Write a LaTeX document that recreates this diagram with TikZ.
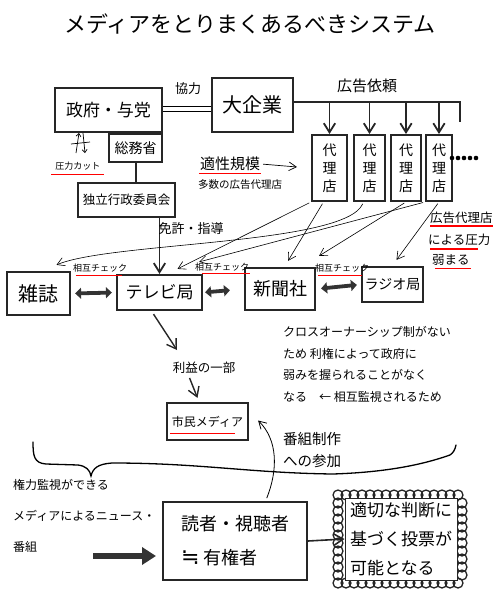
\documentclass[tikz,border=0pt]{standalone}
\usepackage{fontspec}
\setmainfont{Noto Sans CJK JP}
\newfontfamily\symfont{DejaVu Sans}
\usetikzlibrary{arrows.meta,positioning,calc}
\newcommand{\jfs}[2]{\fontsize{#1}{#2}\selectfont}
\tikzset{
  box/.style    ={rectangle, draw=black!85, line width=2.2pt, inner sep=1pt, align=center},
  agent/.style  ={box, line width=2pt, minimum height=66pt, font=\jfs{14}{18}},
  lbl/.style    ={inner sep=1pt, align=left},
  redul/.style  ={draw=red, line width=1.1pt},
  thn/.style    ={-{Straight Barb[length=2.6mm,width=3mm]}, line width=0.6pt, shorten <=2pt},
  ar/.style     ={-{Straight Barb[length=3.2mm,width=4mm]}, line width=1.8pt, draw=black!85},
  chk/.style    ={{Triangle[length=6pt,width=11pt]}-{Triangle[length=6pt,width=11pt]},
                  line width=3.8pt, draw=black!80},
  scallop/.style={draw=black!85, line width=1.3pt},
}

\begin{document}
\begin{tikzpicture}[x=1pt,y=-1pt]
\useasboundingbox (0,0) rectangle (493,598);

\node[font=\jfs{22}{26}] (title) at (250,24) {メディアをとりまくあるべきシステム};

% government, business, agencies
\node[box, minimum width=107pt, minimum height=44pt, font=\jfs{17}{20}] (gov) at (108.5,110) {政府・与党};
\node[box, minimum width=81pt, minimum height=54pt, font=\jfs{20}{24}] (corp) at (252.5,105) {大企業};
\node[box, minimum width=53pt, minimum height=28pt, font=\jfs{14}{16}, anchor=north east] (soumu) at (gov.south east) {総務省};
\node[box, minimum width=97pt, minimum height=34pt, font=\jfs{12.5}{14}] (iinkai) at (126.5,200) {独立行政委員会};

\draw[line width=1pt] ($(gov.east)+(0,-4)$) -- ($(gov.east -| corp.west)+(0,-4)$);
\draw[line width=1pt] ($(gov.east)+(0,1)$) -- ($(gov.east -| corp.west)+(0,1)$);
\node[lbl, font=\jfs{13}{15}] (kyoryoku) at (188,89) {協力};

\node[agent, minimum width=35pt] (ag1) at (329.5,168) {代\\理\\店};
\node[agent, minimum width=31pt, right=5pt of ag1] (ag2) {代\\理\\店};
\node[agent, minimum width=30pt, right=4pt of ag2] (ag3) {代\\理\\店};
\node[agent, minimum width=26pt, right=3pt of ag3] (ag4) {代\\理\\店};
\foreach \i in {0,...,4} \fill (452+6*\i,158) circle (2.3);

\coordinate (busR) at (460,102);
\draw[line width=2pt, draw=black!85] ($(corp.east)+(0,-3)$) -- (busR) -- ++(0,20);
\foreach \a in {ag1,ag2,ag3,ag4} \draw[ar] (\a.north |- busR) -- (\a.north);
\node[lbl, font=\jfs{15}{17}] (irai) at (367,86) {広告依頼};

% pressure cut mark
\coordinate (pc) at (80,143);
\draw[-{Straight Barb[length=3pt,width=5pt]}, line width=0.7pt] ($(pc)+(-4,10)$) -- ($(pc)+(-1,-10)$);
\draw[-{Straight Barb[length=3pt,width=5pt]}, line width=0.7pt] ($(pc)+(3,-10)$) -- ($(pc)+(5,10)$);
\draw[line width=0.7pt] ($(pc)+(-9,1)$) -- ($(pc)+(10,-1)$);
\node[lbl, font=\jfs{9}{11}] (atsu) at (78,166) {圧力カット};
\draw[redul] ($(atsu.south west)+(-3,3)$) -- ($(atsu.south east)+(2,3)$);

\draw[line width=2pt, draw=black!85] (soumu.south) -- (soumu.south |- iinkai.north);

\node[lbl, font=\jfs{15}{17}] (tekisei) at (230,164) {適性規模};
\draw[redul] ($(tekisei.south west)+(0,1)$) -- ($(tekisei.south east)+(0,1)$);
\coordinate (tkEnd) at (297,167);
\draw[thn, line width=0.7pt] (tekisei.east) -- (tkEnd);
\node[lbl, font=\jfs{10.5}{12}] (tasuu) at (240,185) {多数の広告代理店};

% media
\node[box, minimum width=63pt, minimum height=43pt, font=\jfs{20}{24}] (zasshi) at (38.5,293.5) {雑誌};
\node[box, minimum width=85pt, minimum height=35pt, font=\jfs{17}{20}] (tv) at (159.5,292.5) {テレビ局};
\node[box, minimum width=70pt, minimum height=42pt, font=\jfs{18}{21}] (shinbun) at (280,289) {新聞社};
\node[box, minimum width=61pt, minimum height=35pt, font=\jfs{14}{16}] (radio) at (392.5,284.5) {ラジオ局};

\draw[ar] (iinkai.south -| tv.north) -- (tv.north);
\node[lbl, font=\jfs{13}{15}] (menkyo) at (191,229) {免許・指導};

\draw[chk, shorten <=4pt, shorten >=4pt] (zasshi.east) -- (tv.west);
\draw[chk, shorten <=2pt, shorten >=14pt] (tv.east) -- (shinbun.west);
\draw[chk, shorten <=5pt, shorten >=4pt] (shinbun.east) -- (radio.west);
\node[lbl, font=\jfs{9}{11}] (chk1) at (100,268) {相互チェック};
\node[lbl, font=\jfs{9}{11}] (chk2) at (222,267) {相互チェック};
\node[lbl, font=\jfs{9}{11}] (chk3) at (342,268) {相互チェック};
\draw[redul] ($(chk1.south west)+(4,2)$) -- ($(chk1.south east)+(-6,2)$);
\draw[redul] ($(chk2.south west)+(8,1)$) -- ($(chk2.south east)+(0,1)$);
\draw[redul] ($(chk3.south west)+(4,2)$) -- ($(chk3.south east)+(-8,2)$);

\draw[thn] (ag1.south west) -- ($(tv.north)+(18,-5)$);
\draw[thn] ($(ag2.south)+(-6,0)$) .. controls (345,245) and (110,242) .. ($(zasshi.north)+(18,-6)$);
\draw[thn] (ag4.south west) -- ($(tv.north east)+(-4,-12)$);
\draw[thn] ($(ag1.south)+(-6,0)$) -- ($(shinbun.north)+(8,-6)$);
\draw[thn] (ag3.south) -- ($(shinbun.north east)+(3,-11)$);
\draw[thn] (ag4.south) -- ($(radio.north)+(4,-6)$);

\node[lbl, anchor=west, font=\jfs{12.5}{15}] (kd1) at (429,218) {広告代理店};
\node[lbl, anchor=west, font=\jfs{12.5}{15}] (kd2) at (427,240) {による圧力};
\node[lbl, anchor=west, font=\jfs{12.5}{15}] (kd3) at (431,260) {弱まる};
\draw[redul] ($(kd1.south west)+(1,1)$) -- ($(kd1.south east)+(0,1)$);
\draw[redul] ($(kd2.south west)+(3,2)$) -- ($(kd2.south east)+(-14,2)$);
\draw[redul] ($(kd3.south west)+(4,2)$) -- ($(kd3.south east)+(0,2)$);

% citizens' media
\node[lbl, font=\jfs{12.5}{15}] (rieki) at (204,368) {利益の一部};
\node[box, minimum width=81pt, minimum height=37pt, font=\jfs{12}{14}] (shimin) at (207.5,421.5) {市民メディア};
\draw[redul] ($(shimin.south west)+(4,-8)$) -- ($(shimin.south east)+(-14,-8)$);
\coordinate (rk1) at (177,350);
\draw[ar, line width=1.4pt] ($(tv.south)+(-6,3)$) -- (rk1);
\draw[ar, line width=1.4pt] ($(rieki.south west)+(18,3)$) -- ($(shimin.north)+(-10,-4)$);

\node[lbl, anchor=north west, font=\jfs{12}{21.7}] (cross) at (282,325)
  {クロスオーナーシップ制がない\\ため 利権によって政府に\\弱みを握られることがなく\\なる　← 相互監視されるため};

\node[lbl, anchor=north west, font=\jfs{14.5}{22}] (sanka) at (282,431) {番組制作\\への参加};
\coordinate (sk0) at (266,500);
\draw[thn, line width=0.8pt] (sk0) .. controls (278,470) and (278,440) .. ($(shimin.east)+(9,-1)$);

% brace
\draw[line width=1.3pt, line cap=round]
  (33,442) .. controls (33,456) and (34,463) .. (46,464) -- (78,465)
  .. controls (86,466) and (90,470) .. (91,476)
  .. controls (93,468) and (98,464) .. (112,463)
  .. controls (200,463) and (250,473) .. (333,474)
  .. controls (395,472) and (430,462) .. (450,455)
  .. controls (453,453) and (455,450) .. (456,445);

% readers
\node[lbl, anchor=north west, font=\jfs{12}{31}] (news) at (12,478)
  {権力監視ができる\\メディアによるニュース・\\番組};
\node[box, minimum width=144pt, minimum height=78pt, font=\jfs{18}{34}, line width=2pt, align=left] (reader) at (235,541)
  {読者・視聴者\\{\symfont\fontsize{22}{34}\selectfont ≒} 有権者};
\coordinate (bigS) at (93,556);
\draw[line width=6pt, draw=black!80, -{Triangle[length=14pt,width=17pt]}] (bigS) -- ($(reader.west)+(-6,15)$);

\foreach \x in {338,346,...,462} {
  \draw[scallop] (\x,495) circle (5);
  \draw[scallop] (\x,583) circle (5);
}
\foreach \y in {503,511,...,575} {
  \draw[scallop] (338,\y) circle (5);
  \draw[scallop] (462,\y) circle (5);
}
\node[rectangle, draw=black!85, fill=white, line width=1pt, minimum width=112pt, minimum height=82pt,
      font=\jfs{17}{29}, align=left] (judge) at (401,539)
  {適切な判断に\\基づく投票が\\可能となる};
\draw[ar, line width=1.6pt] (reader.east) -- (judge.west);
\end{tikzpicture}
\end{document}
